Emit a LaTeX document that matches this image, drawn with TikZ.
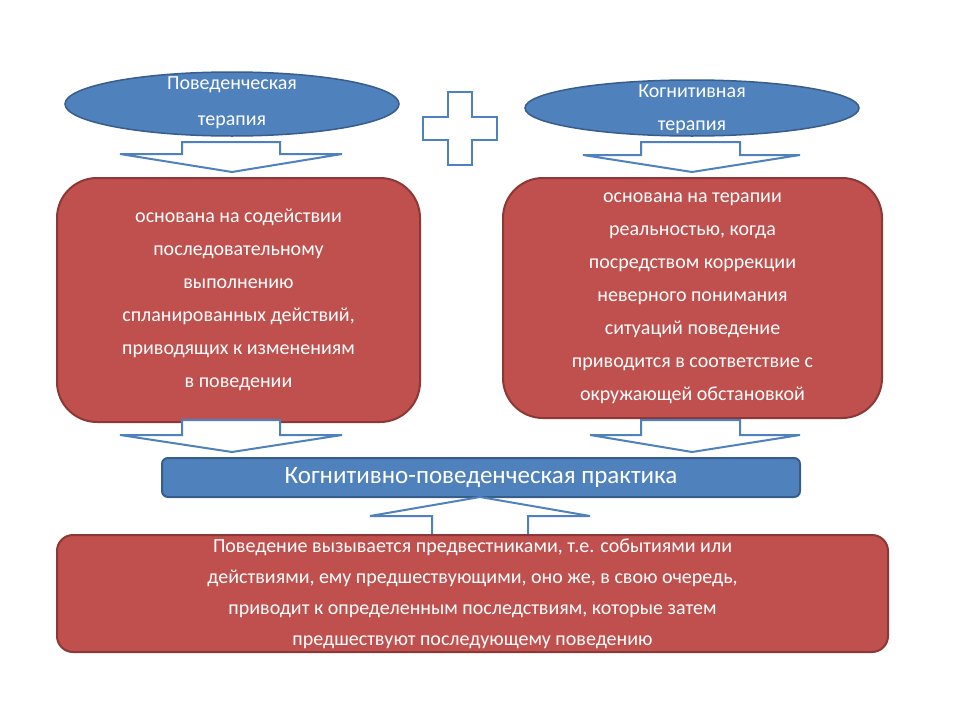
\documentclass[tikz,border=0pt]{standalone}
\usepackage{fontspec}
\setmainfont{Carlito}
\usetikzlibrary{shapes.geometric}
\definecolor{ofblue}{HTML}{4F81BD}
\definecolor{ofblueline}{HTML}{385D8A}
\definecolor{ofred}{HTML}{C0504D}
\definecolor{ofredline}{HTML}{8C3836}
\begin{document}
\begin{tikzpicture}[
    x=1pt, y=-1pt,
    therapy/.style={ellipse, fill=ofblue, draw=ofblueline, line width=1.5pt, text=white, font=\fontsize{20}{30}\selectfont, align=center, inner sep=0pt},
    redbox/.style={rectangle, rounded corners=40pt, fill=ofred, draw=ofredline, line width=2pt, text=white, font=\fontsize{20}{33}\selectfont, align=center},
    bar/.style={rectangle, rounded corners=6pt, fill=ofblue, draw=ofblueline, line width=2pt, text=white, font=\fontsize{25}{30}\selectfont},
    blockarrow/.style={draw=ofblue, fill=white, line width=2pt, line join=miter}
]
\useasboundingbox (0,0) rectangle (960,720);

% therapy ellipses
\node[therapy, minimum width=334pt, minimum height=64pt] (beh) at (232,104) {};
\node[text=white, font=\fontsize{20}{36}\selectfont, align=center] (behtext) at (232,103) {Поведенческая\\терапия};
\node[therapy, minimum width=334pt, minimum height=56pt] (cog) at (692,108) {};
\node[text=white, font=\fontsize{20}{33}\selectfont, align=center] (cogtext) at (692,109) {Когнитивная\\терапия};

% plus sign
\draw[blockarrow] (448,92) -- (472,92) -- (472,117) -- (497,117) -- (497,140) -- (472,140)
    -- (472,165) -- (448,165) -- (448,140) -- (423,140) -- (423,117) -- (448,117) -- cycle;

% arrows into the boxes
\draw[blockarrow] (182,142) -- (280,142) -- (280,154) -- (342,154) -- (232,172) -- (120,154) -- (182,154) -- cycle;
\draw[blockarrow] (641,142) -- (740,142) -- (740,155) -- (800,155) -- (692,172) -- (583,155) -- (641,155) -- cycle;

% description boxes
\node[redbox, minimum width=363pt, minimum height=244pt] (behbox) at (238.5,300) {основана на содействии\\последовательному\\выполнению\\спланированных действий,\\приводящих к изменениям\\в поведении};
\node[redbox, minimum width=379pt, minimum height=240pt] (cogbox) at (692.5,298) {основана на терапии\\реальностью, когда\\посредством коррекции\\неверного понимания\\ситуаций поведение\\приводится в соответствие с\\окружающей обстановкой};

% arrows into the practice bar
\draw[blockarrow] (182,420) -- (280,420) -- (280,435) -- (342,435) -- (232,452) -- (120,435) -- (182,435) -- cycle;
\draw[blockarrow] (641,420) -- (740,420) -- (740,435) -- (800,435) -- (692,452) -- (590,435) -- (641,435) -- cycle;

% practice bar
\node[bar, minimum width=638pt, minimum height=39pt] (practice) at (481,477.5) {Когнитивно-поведенческая практика};

% arrow up from the bottom box
\draw[blockarrow] (432,535) -- (432,516) -- (370,516) -- (480,497) -- (590,516) -- (528,516) -- (528,535);

% bottom box
\node[redbox, rounded corners=16pt, font=\fontsize{20}{31}\selectfont, minimum width=831pt, minimum height=117pt] (rule) at (472.5,593.5) {Поведение вызывается предвестниками, т.е. событиями или\\действиями, ему предшествующими, оно же, в свою очередь,\\приводит к определенным последствиям, которые затем\\предшествуют последующему поведению};
\end{tikzpicture}
\end{document}
